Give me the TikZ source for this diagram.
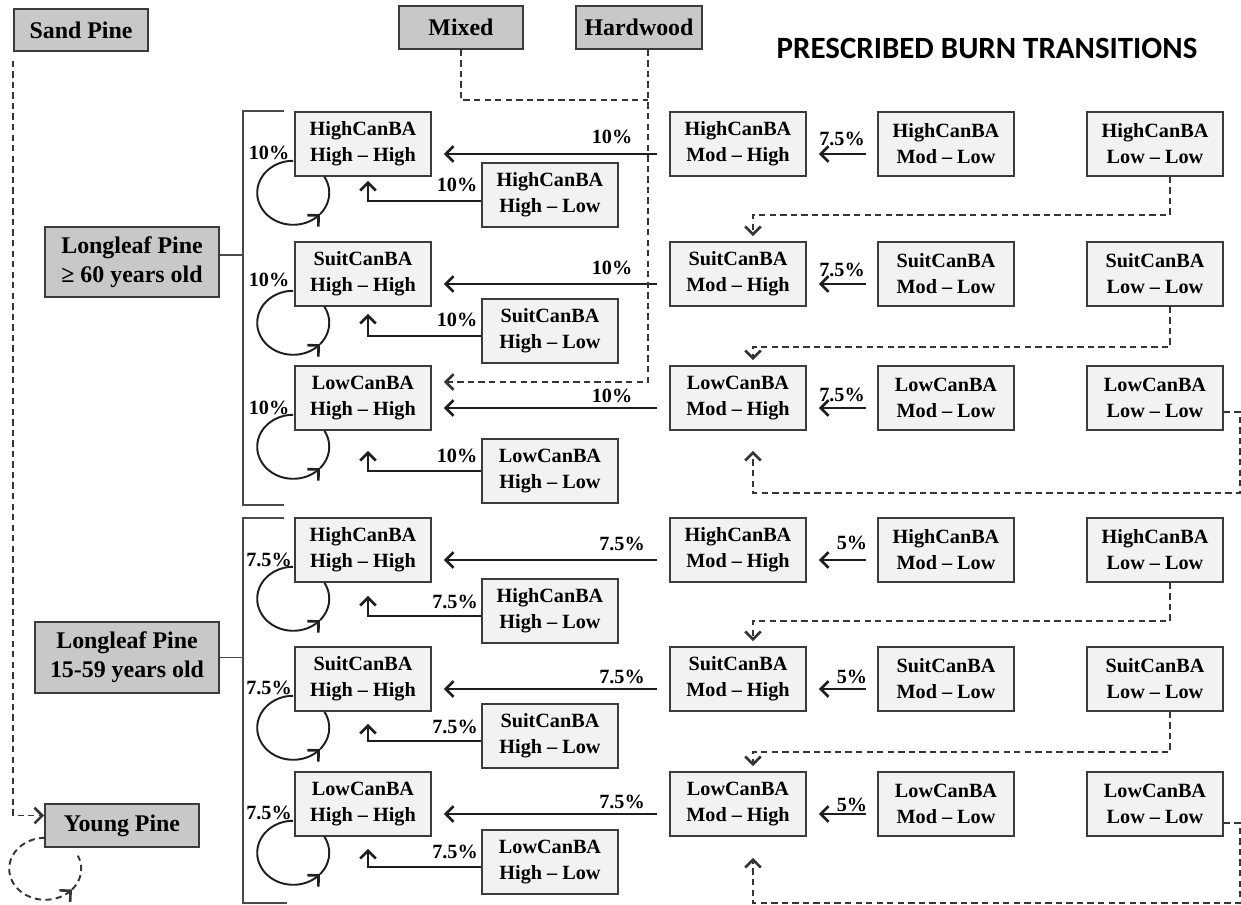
\documentclass[tikz,border=0pt]{standalone}
\usepackage{fontspec}
\setmainfont{Liberation Serif}
\newfontfamily\titlefont{Carlito}
\usetikzlibrary{arrows.meta,calc}
\definecolor{boxline}{HTML}{3C3C3C}
\definecolor{hdrfill}{HTML}{C8C8C8}
\definecolor{cellfill}{HTML}{F2F2F2}
\definecolor{linecol}{HTML}{1E1E1E}
\definecolor{brkcol}{HTML}{4A4A4A}
\begin{document}
\begin{tikzpicture}[x=0.02cm,y=-0.02cm,
 hdr/.style={draw=boxline, line width=0.9pt, fill=hdrfill, inner sep=0pt, align=center, font=\fontsize{13.6}{16.6}\selectfont\bfseries},
 cell/.style={draw=boxline, line width=0.9pt, fill=cellfill, inner sep=0pt, align=center, minimum width=2.72cm, minimum height=1.28cm, font=\fontsize{11.5}{14.8}\selectfont\bfseries, execute at begin node={\rule{0pt}{11pt}}},
 pct/.style={inner sep=0pt, font=\fontsize{11.5}{13.8}\selectfont\bfseries},
 ttl/.style={inner sep=0pt, font=\titlefont\bfseries\fontsize{17.6}{20}\selectfont},
 tip/.style={-{Straight Barb[length=4.5pt,width=9pt,line width=1.5pt]}},
 arr/.style={draw=linecol, line width=1.1pt, tip},
 darr/.style={draw=linecol!90, line width=1.1pt, dash pattern=on 3.6pt off 2.4pt, tip},
 dline/.style={draw=linecol!90, line width=1.1pt, dash pattern=on 3.6pt off 2.4pt},
 brk/.style={draw=brkcol, line width=0.9pt},
 loopl/.style={draw=linecol, line width=1.1pt}
]
\useasboundingbox (0,0) rectangle (1241,905);

% header boxes
\node[hdr, minimum width=2.68cm, minimum height=0.84cm] (sand) at (81,30) {Sand Pine};
\node[hdr, minimum width=2.48cm, minimum height=0.86cm] (mixed) at (461,27.5) {Mixed};
\node[hdr, minimum width=2.52cm, minimum height=0.86cm] (hard) at (639,27.5) {Hardwood};
\node[ttl] (title) at (987,48) {PRESCRIBED BURN TRANSITIONS};
\node[hdr, minimum width=3.48cm, minimum height=1.4cm] (lp1) at (132,262) {Longleaf Pine\\≥ 60 years old};
\node[hdr, minimum width=3.68cm, minimum height=1.42cm] (lp2) at (127,657.5) {Longleaf Pine\\15-59 years old};
\node[hdr, minimum width=3.08cm, minimum height=0.86cm] (young) at (122,825.5) {Young Pine};

% top section cells
\node[cell] (hh1) at (363,144) {HighCanBA\\High – High};
\node[cell] (hh2) at (363,274) {SuitCanBA\\High – High};
\node[cell] (hh3) at (363,398) {LowCanBA\\High – High};
\node[cell] (hl1) at (550,195) {HighCanBA\\High – Low};
\node[cell] (hl2) at (550,331) {SuitCanBA\\High – Low};
\node[cell] (hl3) at (550,471) {LowCanBA\\High – Low};
\node[cell] (mh1) at (738,144) {HighCanBA\\Mod – High};
\node[cell] (mh2) at (738,274) {SuitCanBA\\Mod – High};
\node[cell] (mh3) at (738,398) {LowCanBA\\Mod – High};
\node[cell] (ml1) at (946,144) {HighCanBA\\Mod – Low};
\node[cell] (ml2) at (946,274) {SuitCanBA\\Mod – Low};
\node[cell] (ml3) at (946,398) {LowCanBA\\Mod – Low};
\node[cell] (ll1) at (1155,144) {HighCanBA\\Low – Low};
\node[cell] (ll2) at (1155,274) {SuitCanBA\\Low – Low};
\node[cell] (ll3) at (1155,398) {LowCanBA\\Low – Low};

% bottom section cells
\node[cell] (hhb1) at (363,550) {HighCanBA\\High – High};
\node[cell] (hhb2) at (363,679) {SuitCanBA\\High – High};
\node[cell] (hhb3) at (363,804) {LowCanBA\\High – High};
\node[cell] (hlb1) at (550,611) {HighCanBA\\High – Low};
\node[cell] (hlb2) at (550,736) {SuitCanBA\\High – Low};
\node[cell] (hlb3) at (550,862) {LowCanBA\\High – Low};
\node[cell] (mhb1) at (738,550) {HighCanBA\\Mod – High};
\node[cell] (mhb2) at (738,679) {SuitCanBA\\Mod – High};
\node[cell] (mhb3) at (738,804) {LowCanBA\\Mod – High};
\node[cell] (mlb1) at (946,550) {HighCanBA\\Mod – Low};
\node[cell] (mlb2) at (946,679) {SuitCanBA\\Mod – Low};
\node[cell] (mlb3) at (946,804) {LowCanBA\\Mod – Low};
\node[cell] (llb1) at (1155,550) {HighCanBA\\Low – Low};
\node[cell] (llb2) at (1155,679) {SuitCanBA\\Low – Low};
\node[cell] (llb3) at (1155,804) {LowCanBA\\Low – Low};

% brackets
\draw[brk] (284,111) -| (243,505) -- (284,505);
\draw[brk] ([yshift=0.14cm]lp1.east) -- ++(24,0);
\draw[brk] (284,518) -| (243,903) -- (287,903);
\draw[brk] (lp2.east) -- ++(24,0);

% long arrows Mod-High -> High-High, and Mod-Low -> Mod-High
\foreach \a/\b/\c in {mh1/hh1/ml1, mh2/hh2/ml2, mh3/hh3/ml3, mhb1/hhb1/mlb1, mhb2/hhb2/mlb2, mhb3/hhb3/mlb3} {
  \draw[arr] ([xshift=-0.24cm,yshift=-0.2cm]\a.west) -- ([xshift=0.24cm,yshift=-0.2cm]\b.east);
  \draw[arr] ([xshift=-0.22cm,yshift=-0.2cm]\c.west) -- ([xshift=0.24cm,yshift=-0.2cm]\a.east);
}

% High-Low -> High-High
\foreach \a/\b/\ys/\ty in {hl1/hh1/-0.12/-0.08, hl2/hh2/-0.1/-0.14, hl3/hh3/0/-0.4, hlb1/hhb1/-0.1/-0.26, hlb2/hhb2/-0.1/-0.24, hlb3/hhb3/-0.1/-0.24} {
  \draw[arr] ([yshift=\ys cm]\a.west) -| ([xshift=0.1cm,yshift=\ty cm]\b.south);
}

% self loops
\foreach \n in {hh1,hh2,hh3,hhb1,hhb2,hhb3} {
  \draw[loopl, tip, shift={(\n.south west)}] plot[domain=90:318, samples=60, smooth] ({-1+36*cos(\x)},{16-32*sin(\x)});
  \draw[loopl, shift={(\n.south west)}] plot[domain=318:390, samples=30, smooth] ({-1+36*cos(\x)},{16-32*sin(\x)});
}
\draw[dline, tip, shift={(young.south west)}] plot[domain=90:318, samples=60, smooth] ({1+36*cos(\x)},{21-31*sin(\x)});
\draw[dline, shift={(young.south west)}] plot[domain=318:385, samples=30, smooth] ({1+36*cos(\x)},{21-31*sin(\x)});

% dashed Low-Low transitions
\coordinate (d1) at ([xshift=0.3cm]ll1.south);
\coordinate (d2) at ([xshift=0.3cm]ll2.south);
\coordinate (db1) at ([xshift=0.3cm]llb1.south);
\coordinate (db2) at ([xshift=0.3cm]llb2.south);
\draw[darr] (d1) -- (d1 |- 0,215) -| ([xshift=0.3cm,yshift=0.1cm]mh2.north);
\draw[darr] (d2) -- (d2 |- 0,347) -| ([xshift=0.3cm,yshift=0.1cm]mh3.north);
\draw[darr] (db1) -- (db1 |- 0,621) -| ([xshift=0.3cm,yshift=0.1cm]mhb2.north);
\draw[darr] (db2) -- (db2 |- 0,752) -| ([xshift=0.3cm,yshift=0.1cm]mhb3.north);
\draw[darr] ([yshift=-0.28cm]ll3.east) -| (1240,493) -| ([xshift=0.3cm,yshift=-0.4cm]mh3.south);
\draw[darr] ([yshift=-0.38cm]llb3.east) -| (1240,903) -| ([xshift=0.3cm,yshift=-0.42cm]mhb3.south);

% Mixed / Hardwood
\draw[dline] (mixed.south) |- (648,100);
\draw[darr] ([xshift=0.18cm]hard.south) |- ([xshift=0.24cm,yshift=0.32cm]hh3.east);

% Sand Pine -> Young Pine
\draw[darr] ([yshift=-0.18cm]sand.south west) |- ([yshift=0.2cm]young.west);

% percentage labels
\node[pct] (p1) at (269,153) {10\%};
\node[pct] (p2) at (269,280) {10\%};
\node[pct] (p3) at (269,408) {10\%};
\node[pct] (p4) at (269,560) {7.5\%};
\node[pct] (p5) at (269,688) {7.5\%};
\node[pct] (p6) at (269,813) {7.5\%};
\node[pct] (q1) at (457,185) {10\%};
\node[pct] (q2) at (457,320) {10\%};
\node[pct] (q3) at (457,456) {10\%};
\node[pct] (q4) at (455,602) {7.5\%};
\node[pct] (q5) at (455,727) {7.5\%};
\node[pct] (q6) at (455,852) {7.5\%};
\node[pct] (r1) at (612,137) {10\%};
\node[pct] (r2) at (612,268) {10\%};
\node[pct] (r3) at (612,396) {10\%};
\node[pct] (r4) at (622,544) {7.5\%};
\node[pct] (r5) at (622,677) {7.5\%};
\node[pct] (r6) at (622,802) {7.5\%};
\node[pct] (s1) at (842,139) {7.5\%};
\node[pct] (s2) at (842,270) {7.5\%};
\node[pct] (s3) at (842,395) {7.5\%};
\node[pct] (s4) at (852,543) {5\%};
\node[pct] (s5) at (852,677) {5\%};
\node[pct] (s6) at (852,805) {5\%};
\end{tikzpicture}
\end{document}
